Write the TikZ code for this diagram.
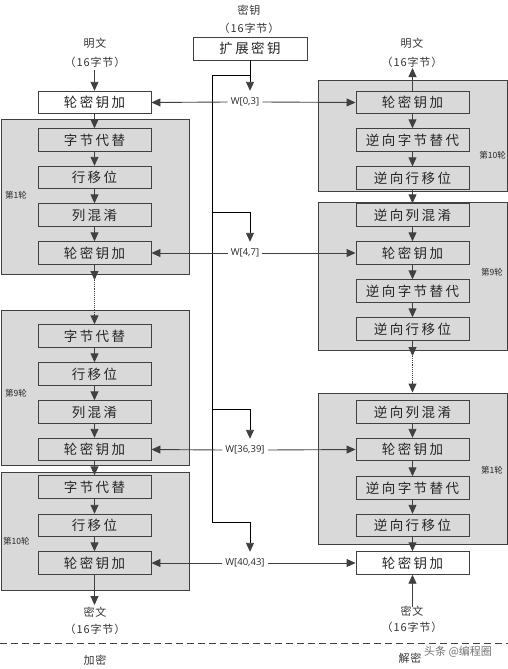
\documentclass[tikz,border=0pt]{standalone}
\usepackage{fontspec}
\setmainfont{Noto Sans CJK SC}
\newfontfamily\wfont{Open Sans}
\usetikzlibrary{arrows.meta,calc}
\definecolor{boxgray}{HTML}{D9D9D9}
\definecolor{edge}{HTML}{404040}
\begin{document}
\begin{tikzpicture}[x=1pt,y=-1pt,
  stage/.style={draw=edge, line width=0.9pt, minimum width=113pt, minimum height=22.5pt, inner sep=0pt,
    font=\fontsize{13.5}{14}\selectfont\addfontfeature{LetterSpace=18}, text=black!85},
  whitestage/.style={stage, fill=white},
  roundbox/.style={draw=edge, fill=boxgray, line width=0.9pt, inner sep=0pt},
  flow/.style={draw=edge, line width=0.9pt, -{Triangle[width=8pt,length=9pt]}},
  dotline/.style={draw=edge, line width=1.1pt, densely dotted},
  keyline/.style={draw=black, line width=0.9pt},
  keyarrow/.style={keyline, -{Triangle[width=8pt,length=9pt,color=edge]}},
  wlabel/.style={font=\wfont\fontsize{9.5}{10}\selectfont, minimum height=22pt, inner xsep=3pt, inner ysep=0pt, text=black!85},
  note/.style={font=\fontsize{11}{13}\selectfont\addfontfeature{LetterSpace=8}, text=black!80, inner sep=0pt},
  roundlabel/.style={font=\fontsize{8.5}{10}\selectfont, text=black!85, inner sep=0pt}
]
\useasboundingbox (0,0) rectangle (508,669);

% round boxes (gray)
\node[roundbox, minimum width=188pt, minimum height=155pt] (G1L) at (95,196.5) {};
\node[roundbox, minimum width=188pt, minimum height=155pt] (G9L) at (95,387.5) {};
\node[roundbox, minimum width=188pt, minimum height=118pt] (G10L) at (95,531) {};
\node[roundbox, minimum width=189pt, minimum height=111pt] (G10R) at (412.5,135.5) {};
\node[roundbox, minimum width=189pt, minimum height=148pt] (G9R) at (412.5,276) {};
\node[roundbox, minimum width=189pt, minimum height=151pt] (G1R) at (412.5,468.5) {};

% round labels
\node[roundlabel, anchor=west] (lab1L) at (5,195) {第1轮};
\node[roundlabel, anchor=west] (lab9L) at (5,393) {第9轮};
\node[roundlabel, anchor=west] (lab10L) at (3,541) {第10轮};
\node[roundlabel, anchor=east] (lab10R) at (506,155) {第10轮};
\node[roundlabel, anchor=east] (lab9R) at (503,272) {第9轮};
\node[roundlabel, anchor=east] (lab1R) at (503,470) {第1轮};

% key
\node[note] (keyt1) at (249,10) {密钥};
\node[note] (keyt2) at (249,28) {（16字节）};
\node[whitestage, minimum width=114pt, minimum height=23pt] (key) at (250,48.5) {扩展密钥};

% left column (encryption)
\node[note] (pt1L) at (95,43) {明文};
\node[note] (pt2L) at (95,62) {（16字节）};
\node[whitestage] (Lark0) at (94.5,102.5) {轮密钥加};
\node[stage] (L1a) at (94.5,140) {字节代替};
\node[stage] (L1b) at (94.5,177.5) {行移位};
\node[stage] (L1c) at (94.5,215) {列混淆};
\node[stage] (L1d) at (94.5,253) {轮密钥加};
\node[stage] (L9a) at (94.5,336) {字节代替};
\node[stage] (L9b) at (94.5,374) {行移位};
\node[stage] (L9c) at (94.5,412) {列混淆};
\node[stage] (L9d) at (94.5,449.5) {轮密钥加};
\node[stage] (L10a) at (94.5,487) {字节代替};
\node[stage] (L10b) at (94.5,525.5) {行移位};
\node[stage] (L10c) at (94.5,563) {轮密钥加};
\node[note] (ct1L) at (95,612) {密文};
\node[note] (ct2L) at (95,629) {（16字节）};

% right column (decryption)
\node[note] (pt1R) at (412,43) {明文};
\node[note] (pt2R) at (412,62) {（16字节）};
\node[stage] (R10a) at (412.5,102.5) {轮密钥加};
\node[stage] (R10b) at (412.5,140) {逆向字节替代};
\node[stage] (R10c) at (412.5,178) {逆向行移位};
\node[stage] (R9a) at (412.5,215) {逆向列混淆};
\node[stage] (R9b) at (412.5,253) {轮密钥加};
\node[stage] (R9c) at (412.5,291) {逆向字节替代};
\node[stage] (R9d) at (412.5,329) {逆向行移位};
\node[stage] (R1a) at (412.5,412) {逆向列混淆};
\node[stage] (R1b) at (412.5,449.5) {轮密钥加};
\node[stage] (R1c) at (412.5,488) {逆向字节替代};
\node[stage] (R1d) at (412.5,525.5) {逆向行移位};
\node[whitestage] (Rfin) at (412.5,563) {轮密钥加};
\node[note] (ct1R) at (412,611) {密文};
\node[note] (ct2R) at (412,627) {（16字节）};

% W labels
\node[wlabel] (W03) at (245,102) {W[0,3]};
\node[wlabel] (W47) at (245,253) {W[4,7]};
\node[wlabel] (W3639) at (245,450) {W[36,39]};
\node[wlabel] (W4043) at (245,563) {W[40,43]};

% coordinates
\coordinate (inL) at (94.5,70);
\coordinate (dL) at (94.5,280);
\coordinate (dL2) at (94.5,314);
\coordinate (outL) at (94.5,605);
\coordinate (outR) at (412.5,68);
\coordinate (dR) at (412.5,356);
\coordinate (dR2) at (412.5,382);
\coordinate (inR) at (412.5,607);
\coordinate (ktop) at (212,75);
\coordinate (kb2) at (212,212);
\coordinate (kb3) at (212,409);
\coordinate (kbot) at (212,522);

% key schedule lines
\draw[keyline] (ktop) -- (kbot);
\draw[keyline] (ktop) -- (ktop -| key.south);
\draw[keyarrow] (key.south) -- ($(W03.north)+(5,0)$);
\draw[keyarrow] (kb2) -| ($(W47.north)+(5,0)$);
\draw[keyarrow] (kb3) -| ($(W3639.north)+(5,0)$);
\draw[keyarrow] (kbot) -| ($(W4043.north)+(5,0)$);

\draw[flow] (W03.west) -- (Lark0.east);
\draw[flow] (W03.east) -- (R10a.west);
\draw[flow] (W47.west) -- (L1d.east);
\draw[flow] (W47.east) -- (R9b.west);
\draw[flow] (W3639.west) -- (L9d.east);
\draw[flow] (W3639.east) -- (R1b.west);
\draw[flow] (W4043.west) -- (L10c.east);
\draw[flow] (W4043.east) -- (Rfin.west);

% left flow
\draw[flow] (inL) -- (Lark0.north);
\draw[flow] (Lark0) -- (L1a);
\draw[flow] (L1a) -- (L1b);
\draw[flow] (L1b) -- (L1c);
\draw[flow] (L1c) -- (L1d);
\draw[flow] (L1d) -- (dL);
\draw[dotline] (dL) -- (dL2);
\draw[flow] (dL2) -- (L9a.north);
\draw[flow] (L9a) -- (L9b);
\draw[flow] (L9b) -- (L9c);
\draw[flow] (L9c) -- (L9d);
\draw[flow] (L9d) -- (L10a);
\draw[flow] (L10a) -- (L10b);
\draw[flow] (L10b) -- (L10c);
\draw[flow] (L10c) -- (outL);

% right flow
\draw[flow] (R10a.north) -- (outR);
\draw[flow] (R10a) -- (R10b);
\draw[flow] (R10b) -- (R10c);
\draw[flow] (R10c) -- (R9a);
\draw[flow] (R9a) -- (R9b);
\draw[flow] (R9b) -- (R9c);
\draw[flow] (R9c) -- (R9d);
\draw[flow] (R9d) -- (dR);
\draw[dotline] (dR) -- (dR2);
\draw[flow] (dR2) -- (G1R.north);
\draw[flow] (R1a) -- (R1b);
\draw[flow] (R1b) -- (R1c);
\draw[flow] (R1c) -- (R1d);
\draw[flow] (R1d) -- (Rfin);
\draw[flow] (inR) -- (Rfin.south);

% separator and captions
\coordinate (sepL) at (0,643);
\coordinate (sepR) at (508,643);
\draw[edge, line width=0.9pt, dash pattern=on 7pt off 4pt] (sepL) -- (sepR);
\node[note] (enc) at (95,660) {加密};
\node[note] (dec) at (410,658) {解密};
\node[font=\fontsize{11}{13}\selectfont, text=black!55, inner sep=0pt] (wm) at (458,652) {头条 @编程圈};
\end{tikzpicture}
\end{document}
